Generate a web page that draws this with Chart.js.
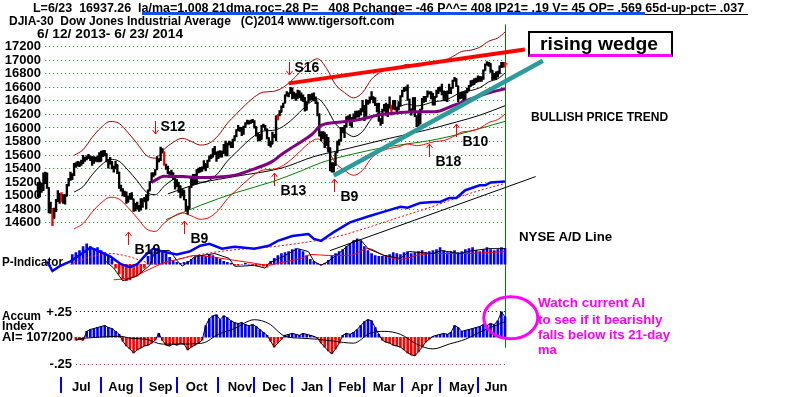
<!DOCTYPE html>
<html>
<head>
<meta charset="utf-8">
<title>DJIA-30 Dow Jones Industrial Average</title>
<script src="https://cdn.jsdelivr.net/npm/chart.js@4/dist/chart.umd.min.js"></script>
<style>
  body { margin: 0; background: #ffffff; }
  #page { position: relative; width: 800px; height: 397px; overflow: hidden; background: #ffffff; }
  #djia { position: absolute; left: 0; top: 0; }
  .txt { position: absolute; white-space: pre; transform-origin: 0 0; line-height: 1;
         font-family: "Liberation Sans", Arial, sans-serif; font-weight: bold; font-size: 13px; color: #000000; }
  .note { color: #ff00ff; }
  #wedgeBox { position: absolute; left: 528px; top: 31px; width: 141px; height: 21px; background: #ffffff;
              border: 2px solid #000000; border-bottom: 3px solid #ff00ff; }
  #thinLine { position: absolute; left: 443px; top: 14px; width: 305px; height: 1px; background: #000000; }
  #blueBar { position: absolute; left: 142px; top: 12px; width: 503px; height: 3px; background: #1450f0; }
</style>
</head>
<body>
<div id="page">
  <canvas id="djia" width="800" height="397"></canvas>
  <div id="thinLine"></div>
  <div id="blueBar"></div>
  <div class="txt" id="head1" style="left:33px;top:1px;">L=6/23  16937.26  la/ma=1.008 21dma.roc=.28 P=   408 Pchange= -46 P^^= 408 IP21= .19 V= 45 OP= .569 65d-up-pct= .037</div>
  <div class="txt" id="head2" style="left:9px;top:14px;">DJIA-30  Dow Jones Industrial Average   (C)2014 www.tigersoft.com</div>
  <div class="txt" id="head3" style="left:37px;top:27px;">6/ 12/ 2013- 6/ 23/ 2014</div>
  <div id="wedgeBox"></div>
  <div class="txt" id="wedgeTxt" style="left:540px;top:34px;font-size:19px;">rising wedge</div>
  <div class="txt" id="bullTxt" style="left:531px;top:110px;">BULLISH PRICE TREND</div>
  <div class="txt" id="nyseTxt" style="left:519px;top:230px;">NYSE A/D Line</div>
  <div class="txt note" id="note1" style="left:538px;top:296px;">Watch current AI</div>
  <div class="txt note" id="note2" style="left:538px;top:313px;">to see if it bearishly</div>
  <div class="txt note" id="note3" style="left:538px;top:328px;">falls below its 21-day</div>
  <div class="txt note" id="note4" style="left:538px;top:343px;">ma</div>
</div>
<script>
// daily DJIA bars, trading day 0 = 6/12/2013 ... 259 = 6/23/2014
var closes = [14995,15176,15070,15179,15318,15112,14758,14800,14659,14760,
  14910,15024,14910,14975,14932,14988,15136,15225,15300,15291,
  15460,15464,15484,15451,15471,15548,15543,15545,15567,15542,
  15555,15559,15521,15520,15500,15628,15658,15612,15518,15470,
  15498,15425,15419,15451,15337,15112,15081,15010,15002,14897,
  14963,15010,14946,14776,14824,14840,14810,14834,14930,14937,
  14922,15063,15191,15326,15300,15376,15494,15529,15676,15636,
  15451,15401,15334,15273,15328,15258,15129,15191,15133,14996,
  15072,14936,14776,14802,15126,15237,15301,15168,15373,15371,
  15399,15392,15467,15413,15509,15570,15568,15680,15618,15546,
  15615,15639,15618,15746,15593,15761,15783,15751,15822,15876,
  15962,15976,15968,15900,16009,16065,16073,16072,16097,16086,
  16008,15914,15889,15821,16020,16025,15973,15844,15739,15755,
  15885,15875,16168,16179,16221,16294,16357,16479,16478,16505,
  16577,16441,16469,16425,16531,16463,16445,16437,16257,16374,
  16481,16418,16459,16414,16373,16198,15879,15838,15929,15739,
  15849,15699,15373,15445,15441,15629,15794,15802,15994,15964,
  16027,16154,16130,16041,16133,16104,16208,16179,16198,16272,
  16322,16168,16396,16361,16422,16453,16419,16351,16340,16108,
  16065,16247,16337,16222,16331,16302,16276,16368,16268,16264,
  16323,16457,16532,16573,16572,16413,16246,16256,16437,16170,
  16027,16174,16263,16425,16409,16449,16514,16501,16502,16361,
  16448,16535,16581,16558,16513,16530,16401,16518,16551,16583,
  16695,16715,16614,16447,16492,16511,16374,16533,16543,16606,
  16676,16634,16699,16717,16744,16723,16738,16836,16924,16943,
  16946,16843,16735,16776,16781,16808,16906,16921,16947,16937];
var highs = [15190,15195,15180,15330,15340,15330,15110,14900,14800,14810,
  14940,15070,15020,15040,15010,15010,15160,15250,15340,15320,
  15470,15480,15500,15490,15520,15590,15560,15580,15605,15580,
  15570,15570,15560,15580,15630,15650,15660,15660,15610,15530,
  15560,15500,15430,15500,15450,15340,15150,15100,15060,15050,
  14990,15030,15040,14940,14880,14900,14850,14950,14950,14970,
  15010,15080,15200,15330,15330,15380,15570,15540,15710,15690,
  15640,15460,15430,15350,15370,15330,15260,15230,15190,15140,
  15090,15070,14940,14840,15130,15250,15310,15310,15380,15400,
  15410,15420,15510,15460,15520,15580,15600,15690,15720,15640,
  15650,15660,15650,15750,15800,15770,15800,15780,15830,15880,
  15970,16030,16000,16000,16020,16070,16110,16100,16110,16120,
  16100,16010,15920,15900,16030,16050,16030,15980,15850,15800,
  15930,15900,16170,16190,16250,16320,16360,16480,16530,16510,
  16590,16580,16520,16500,16550,16540,16510,16480,16440,16380,
  16490,16480,16500,16510,16450,16370,16200,15940,15940,15920,
  15900,15850,15700,15480,15480,15630,15800,15820,16000,16000,
  16030,16160,16170,16190,16150,16200,16240,16240,16250,16280,
  16400,16320,16410,16400,16450,16530,16450,16440,16350,16360,
  16130,16270,16340,16360,16340,16450,16330,16400,16400,16300,
  16380,16470,16550,16590,16600,16630,16420,16280,16440,16440,
  16160,16230,16270,16430,16460,16460,16540,16530,16530,16500,
  16460,16550,16590,16600,16640,16540,16530,16540,16640,16590,
  16700,16740,16720,16610,16510,16520,16510,16540,16580,16620,
  16690,16700,16720,16730,16760,16750,16750,16850,16940,16970,
  16960,16940,16840,16800,16820,16830,16910,16960,16960,16960];
var lows = [14975,14975,15040,15070,15170,15100,14740,14730,14550,14660,
  14760,14910,14880,14900,14880,14870,14990,15140,15220,15230,
  15290,15410,15430,15420,15440,15470,15500,15520,15540,15510,
  15440,15470,15500,15490,15490,15510,15570,15580,15490,15400,
  15460,15390,15340,15390,15320,15100,15060,14990,14980,14880,
  14900,14940,14940,14760,14770,14800,14760,14780,14820,14900,
  14800,14930,15070,15190,15270,15300,15380,15490,15510,15620,
  15440,15380,15320,15260,15270,15230,15090,15130,15040,14960,
  14990,14930,14770,14720,14810,15110,15150,15160,15170,15330,
  15340,15350,15390,15360,15410,15500,15540,15560,15600,15500,
  15540,15560,15560,15620,15580,15580,15740,15700,15700,15800,
  15860,15950,15940,15880,15900,16000,16050,16050,16060,16070,
  15990,15870,15800,15800,15830,16000,15960,15830,15730,15710,
  15760,15850,15800,16110,16170,16230,16290,16360,16460,16450,
  16500,16420,16430,16400,16430,16440,16400,16380,16240,16260,
  16370,16400,16410,16390,16350,16170,15870,15800,15840,15700,
  15740,15640,15360,15340,15340,15440,15630,15740,15800,15920,
  15850,16000,16110,16030,16000,16090,16110,16150,16150,16180,
  16230,16100,16170,16340,16360,16410,16360,16320,16230,16090,
  16030,16060,16240,16180,16160,16290,16180,16270,16260,16230,
  16260,16320,16450,16530,16540,16400,16240,16180,16250,16160,
  16010,16030,16050,16270,16370,16380,16450,16490,16420,16330,
  16330,16450,16500,16530,16480,16400,16390,16380,16500,16500,
  16580,16680,16600,16380,16420,16430,16360,16380,16510,16540,
  16610,16620,16640,16660,16670,16680,16680,16710,16840,16920,
  16900,16810,16700,16710,16710,16740,16790,16880,16890,16890];
var redBars = [8, 13, 70, 133, 196, 259];
var lastDay = 259;

// x axis: month separators and label positions (trading day numbers)
var monthNames = ["Jul","Aug","Sep","Oct","Nov","Dec","Jan","Feb","Mar","Apr","May","Jun"];
var monthStart = [13, 35, 57, 77, 100, 120, 141, 162, 181, 202, 223, 244];
var monthMid = [24, 46, 68, 88, 112, 131, 152, 173, 192, 213, 235, 254];
var priceTicks = [14600,14800,15000,15200,15400,15600,15800,16000,16200,16400,16600,16800,17000,17200];
var aiTicks = [0.25, -0.25];
var aiTickLabels = ["+.25", "-.25"];

// 21-day ma and its bands, read every 5 days
var ma21Day = [20,25,30,35,40,45,50,55,60,65,70,75,80,85,90,95,100,105,110,115,120,125,130,135,140,
  145,150,155,160,165,170,175,180,185,190,195,200,205,210,215,220,225,230,235,240,245,250,255,259];
var ma21 = [15047,15127,15301,15443,15529,15501,15368,15213,15049,15007,15135,15234,15290,15245,15193,
  15220,15330,15504,15635,15765,15877,15947,15956,16000,16096,16223,16350,16423,16286,16054,15940,
  15865,15941,16131,16231,16276,16302,16344,16318,16343,16383,16396,16454,16525,16544,16586,16672,16719,16802];
var upperBand = [15589,15672,15852,15999,16088,16059,15921,15761,15591,15547,15680,15782,15840,15794,15740,
  15768,15882,16062,16198,16333,16449,16521,16530,16576,16675,16807,16939,17014,16872,16632,16514,
  16436,16515,16712,16815,16862,16889,16932,16905,16931,16973,16986,17046,17120,17140,17183,17272,17321,17407];
var lowerBand = [14505,14582,14750,14887,14970,14943,14815,14665,14507,14467,14590,14686,14740,14696,14646,
  14672,14778,14946,15072,15197,15305,15373,15382,15424,15517,15639,15761,15832,15700,15476,15366,
  15294,15367,15550,15647,15690,15715,15756,15731,15755,15793,15806,15862,15930,15948,15989,16072,16117,16197];

// longer moving averages
var purpleDay = [63,70,80,90,100,110,120,130,135,140,146,152,157,168,179,190,201,210,220,230,240,250,259];
var purpleMa = [15190,15280,15275,15260,15270,15300,15390,15500,15600,15690,15790,15900,16030,16080,16120,
  16190,16220,16230,16230,16320,16420,16510,16570];
var blackMaDay = [72,90,110,135,153,172,195,215,232,245,259];
var blackMa = [15020,15180,15280,15400,15570,15690,15840,15960,16080,16180,16320];
var greenMaDay = [71,90,110,130,146,157,175,195,216,232,259];
var greenMa = [14640,14850,15040,15200,15360,15480,15610,15720,15800,15890,16090];

// rising wedge lines [day, price]
var wedgeTop = [[139, 16650], [270, 17150]];
var wedgeBottom = [[164, 15290], [280, 16985]];

// NYSE A/D line (own scale), its ma and trendline
var adDay = [5,8,12,18,26,29,33,40,46,51,55,60,64,69,77,84,90,95,102,109,120,128,133,141,150,153,157,160,164,173,
  183,192,201,205,212,219,223,228,232,237,245,248,251,259];
var adLine = [12,2,7,12,22,26,23,17,9,6,9,19,25,22,19,22,28,30,25,27,25,28,33,38,40,35,33,37,42,52,
  58,63,68,67,72,73,73,77,77,85,90,90,93,94];
var adMaDay = [18,30,40,50,60,66,75,90,110,130,150,165,180,200,220,240,259];
var adMa = [9,17,20,17,11,9,13,19,24,27,32,37,45,57,69,82,92];
var adTrend = [[162, 23], [276, 99]];

// P-Indicator histogram every 2nd day from day 19, plus its two lines
var pStart = 19;
var pHist = [250,300,350,450,525,450,400,425,350,300, 225,125,-100,-250,-375,-425,-400,-325,-300,-225,
  -100,200,325,400,375,325,275,175,100,50, 25,50,75,125,175,200,225,200,250,225,
  175,125,75,50,25,-25,-25,0,25,0, -25,-50,-25,-50,-75,75,150,225,275,300,
  325,375,400,375,325,225,125,75,25,-25, 25,100,200,275,325,375,450,525,600,650,
  600,450,350,275,225,200,200,225,250,300, 275,250,300,325,275,300,325,350,300,325,
  350,375,425,350,300,325,350,300,325,375, 400,425,350,325,375,425,375,350,375,425, 408];
var pLineDay = [37,42,47,55,62,65,73,77,80,84,87,98,106,109,113,120,126,128,137,144,150,153,157,161,168,175,
  179,183,192,201,206,219,224,234,241,250,259];
var pLine = [100,-100,-425,-300,-25,350,350,100,-50,75,200,275,150,-50,-50,-25,-100,25,225,400,325,75,-25,75,
  325,600,625,400,225,150,325,275,350,275,350,400,400];
var pMaDay = [42,51,62,69,80,87,98,109,120,128,133,146,152,161,173,183,192,201,210,219,237,250,259];
var pMa = [-400,-350,-125,25,150,225,175,100,25,-25,25,150,250,225,225,400,225,125,225,275,275,300,325];

// Accumulation Index every 2nd day from day 21, and its 21-day ma
var aiStart = 21;
var aiHist = [-0.028,-0.019,-0.028,0.056,0.074,0.083,0.093,0.102,0.111,0.093,
  0.083,0.056,0.028,-0.037,-0.083,-0.111,-0.148,-0.12,-0.102,-0.083,
  -0.074,-0.056,-0.028,0.037,-0.03,-0.074,-0.083,-0.065,-0.074,-0.056,
  -0.065,-0.12,-0.093,-0.074,-0.056,-0.028,0.111,0.176,0.204,0.213,
  0.167,0.204,0.185,0.157,0.139,0.13,0.139,0.12,0.111,0.12,
  0.102,0.074,0.046,0.019,-0.037,-0.093,-0.056,-0.019,0.019,0.028,
  0.037,0.028,0.019,0.037,0.028,0.019,0.009,-0.009,-0.056,-0.093,
  -0.13,-0.157,-0.111,-0.056,0.019,0.037,0.028,0.046,0.074,0.111,
  0.148,0.167,0.157,0.093,0.028,-0.028,-0.046,-0.056,-0.074,-0.083,
  -0.093,-0.12,-0.148,-0.167,-0.176,-0.139,-0.093,-0.046,-0.019,0.009,
  0.019,0.028,0.037,0.028,0.046,0.111,0.093,0.056,0.065,0.074,
  0.083,0.093,0.102,0.12,0.111,0.13,0.12,0.157,0.241,0.194];
var aiMaDay = [21,26,46,51,60,69,77,91,100,109,120,128,137,146,155,164,175,184,192,201,210,219,228,237,246,259];
var aiMa = [-0.019,-0.009,0.009,-0.009,-0.019,-0.065,-0.065,-0.056,0.028,0.083,0.167,0.13,0.009,-0.009,-0.019,
  -0.037,-0.056,0.037,0.056,0.028,-0.065,-0.111,-0.065,-0.019,0.056,0.148];

// buy / sell signals: arrow tip at [day, price]
var sigName = ["S16","S12","B9","B19","B13","B9","B18","B10"];
var sigDay = [139, 65, 81, 50, 131, 164, 217, 232];
var sigPrice = [16769, 15907, 14614, 14456, 15333, 15246, 15749, 16051];

var labelFont = "bold 13px 'Liberation Sans', Arial, sans-serif";

function pairs(days, values) {
  return days.map(function (d, i) { return { x: d, y: values[i] }; });
}
function everyOther(start, values) {
  return values.map(function (v, i) { return { x: start + i * 2, y: v }; });
}
function lineSet(data, axis, color, width, smooth) {
  return {
    type: "line", data: data, yAxisID: axis, borderColor: color, borderWidth: width,
    pointRadius: 0, fill: false, cubicInterpolationMode: smooth ? "monotone" : "default", tension: 0
  };
}
function signColor(ctx) {
  var v = ctx.raw ? ctx.raw.y : 0;
  return v < 0 ? "#ff0000" : "#0000ff";
}

// grid, axis labels, signals and the AI circle
var tigerDecor = {
  id: "tigerDecor",
  beforeDatasetsDraw: function (chart) {
    var ctx = chart.ctx, sx = chart.scales.x, sy = chart.scales.y, sa = chart.scales.yA, sp = chart.scales.yP;
    ctx.save();
    ctx.lineWidth = 1;
    ctx.setLineDash([1, 3]);
    ctx.strokeStyle = "#008000";
    priceTicks.forEach(function (v) {
      var py = Math.round(sy.getPixelForValue(v)) + 0.5;
      ctx.beginPath();
      ctx.moveTo(sx.getPixelForValue(4), py);
      ctx.lineTo(sx.getPixelForValue(lastDay), py);
      ctx.stroke();
    });
    aiTicks.forEach(function (v, i) {
      var py = Math.round(sa.getPixelForValue(v)) + 0.5;
      ctx.strokeStyle = i === 0 ? "#000000" : "#a000a0";
      ctx.beginPath();
      ctx.moveTo(sx.getPixelForValue(21), py);
      ctx.lineTo(sx.getPixelForValue(lastDay + 1), py);
      ctx.stroke();
    });
    ctx.setLineDash([]);

    // last day marker
    var lx = Math.round(sx.getPixelForValue(lastDay)) + 0.5;
    ctx.strokeStyle = "#008000";
    ctx.beginPath();
    ctx.moveTo(lx, sy.getPixelForValue(17520));
    ctx.lineTo(lx, sa.getPixelForValue(-0.1));
    ctx.stroke();

    ctx.fillStyle = "#000000";
    ctx.font = labelFont;
    ctx.textAlign = "right";
    ctx.textBaseline = "middle";
    priceTicks.forEach(function (v) {
      ctx.fillText(String(v), 41, sy.getPixelForValue(v) + 0.5);
    });
    aiTicks.forEach(function (v, i) {
      ctx.fillText(aiTickLabels[i], 72, sa.getPixelForValue(v) + 1);
    });

    ctx.textAlign = "left";
    ctx.fillText("P-Indicator", 2, sp.getPixelForValue(40), 61);
    ctx.fillText("Accum", 2, sa.getPixelForValue(0.2), 39);
    ctx.fillText("Index", 2, sa.getPixelForValue(0.1), 32);
    ctx.fillText("AI= 107/200", 2, sa.getPixelForValue(0.0), 71);

    // month strip
    ctx.strokeStyle = "#0000ff";
    ctx.lineWidth = 2;
    monthStart.forEach(function (d) {
      var px = Math.round(sx.getPixelForValue(d));
      ctx.beginPath();
      ctx.moveTo(px, 377);
      ctx.lineTo(px, 393);
      ctx.stroke();
    });
    ctx.textAlign = "center";
    monthNames.forEach(function (m, i) {
      ctx.fillText(m, sx.getPixelForValue(monthMid[i]), 387);
    });
    ctx.restore();
  },
  afterDatasetsDraw: function (chart) {
    var ctx = chart.ctx, sx = chart.scales.x, sy = chart.scales.y, sa = chart.scales.yA;
    ctx.save();
    ctx.strokeStyle = "#ff0000";
    ctx.lineWidth = 1;
    ctx.fillStyle = "#000000";
    ctx.font = "bold 14px 'Liberation Sans', Arial, sans-serif";
    ctx.textAlign = "left";
    sigName.forEach(function (name, i) {
      var px = Math.round(sx.getPixelForValue(sigDay[i])) + 0.5;
      var py = Math.round(sy.getPixelForValue(sigPrice[i]));
      var up = name.charAt(0) === "B";
      var tail = up ? py + 13 : py - 13;
      var head = up ? py + 4 : py - 4;
      ctx.beginPath();
      ctx.moveTo(px, tail);
      ctx.lineTo(px, py);
      ctx.moveTo(px - 3, head);
      ctx.lineTo(px, py);
      ctx.lineTo(px + 3, head);
      ctx.stroke();
      if (up) {
        ctx.textBaseline = "top";
        ctx.fillText(name, px + 6, py + 11);
      } else {
        ctx.textBaseline = "middle";
        ctx.fillText(name, px + 5, py - 7);
      }
    });

    // circle round the current AI
    ctx.strokeStyle = "#ff00ff";
    ctx.lineWidth = 3;
    ctx.beginPath();
    ctx.ellipse(sx.getPixelForValue(lastDay + 3.2), sa.getPixelForValue(0.185), 27, 21, 0, 0, Math.PI * 2);
    ctx.stroke();
    ctx.restore();
  }
};

var priceBars = highs.map(function (h, i) { return { x: i, y: [lows[i], h] }; });
var closeTicks = closes.map(function (c, i) { return { x: i, y: c }; });
function barColor(ctx) {
  return redBars.indexOf(ctx.dataIndex) >= 0 ? "#ff0000" : "#000000";
}

var datasets = [
  lineSet(pairs([wedgeTop[0][0], wedgeTop[1][0]], [wedgeTop[0][1], wedgeTop[1][1]]), "y", "#ff0000", 4, false),
  lineSet(pairs([wedgeBottom[0][0], wedgeBottom[1][0]], [wedgeBottom[0][1], wedgeBottom[1][1]]), "y", "#2e9b9b", 4.5, false),
  lineSet(pairs(purpleDay, purpleMa), "y", "#800080", 3, true),
  {
    type: "bar", data: priceBars, yAxisID: "y", backgroundColor: barColor,
    barThickness: 1.7, grouped: false, borderWidth: 0
  },
  {
    type: "line", data: closeTicks, yAxisID: "y", showLine: false, pointStyle: "dash",
    pointRadius: 2.5, pointBorderWidth: 1.2, pointBorderColor: barColor, pointBackgroundColor: barColor
  },
  lineSet(pairs(ma21Day, ma21), "y", "#000000", 1, true),
  lineSet(pairs(ma21Day, upperBand), "y", "#a00000", 1, true),
  lineSet(pairs(ma21Day, lowerBand), "y", "#ff0000", 1, true),
  lineSet(pairs(blackMaDay, blackMa), "y", "#000000", 1, true),
  lineSet(pairs(greenMaDay, greenMa), "y", "#008000", 1, true),
  lineSet(pairs(adDay, adLine), "yAD", "#0000ff", 2.5, false),
  Object.assign(lineSet(pairs(adMaDay, adMa), "yAD", "#ff0000", 1, true), { borderDash: [2, 2] }),
  lineSet(pairs([adTrend[0][0], adTrend[1][0]], [adTrend[0][1], adTrend[1][1]]), "yAD", "#000000", 1, false),
  lineSet(pairs(pLineDay, pLine), "yP", "#000000", 1, false),
  lineSet(pairs(pMaDay, pMa), "yP", "#ff0000", 1, true),
  {
    type: "bar", data: everyOther(pStart, pHist), yAxisID: "yP", backgroundColor: signColor,
    barThickness: 2, grouped: false, borderWidth: 0
  },
  lineSet(everyOther(aiStart, aiHist), "yA", "#000000", 1, false),
  lineSet(pairs(aiMaDay, aiMa), "yA", "#000000", 1, true),
  {
    type: "bar", data: everyOther(aiStart, aiHist), yAxisID: "yA", backgroundColor: signColor,
    barThickness: 2, grouped: false, borderWidth: 0
  }
];

var chart = new Chart(document.getElementById("djia"), {
  type: "bar",
  data: { datasets: datasets },
  options: {
    responsive: false,
    animation: false,
    devicePixelRatio: 1,
    events: [],
    layout: { padding: 0 },
    plugins: { legend: { display: false }, tooltip: { enabled: false } },
    scales: {
      x: { type: "linear", min: -18.201, max: 419.72, offset: false, display: false },
      y: { type: "linear", min: 12100.5, max: 17803.3, display: false },
      yAD: { type: "linear", min: -122, max: 275, display: false },
      yP: { type: "linear", min: -3275, max: 6650, display: false },
      yA: { type: "linear", min: -0.5185, max: 3.1574, display: false }
    }
  },
  plugins: [tigerDecor]
});

// squeeze each text block to the width it has in the original
function fitText(id, width) {
  var el = document.getElementById(id);
  el.style.transform = "scaleX(" + (width / el.offsetWidth).toFixed(3) + ")";
}
fitText("head1", 711);
fitText("head2", 386);
fitText("head3", 146);
fitText("wedgeTxt", 118);
fitText("bullTxt", 137);
fitText("nyseTxt", 93);
fitText("note1", 107);
fitText("note2", 124);
fitText("note3", 132);
fitText("note4", 19);
</script>
</body>
</html>
